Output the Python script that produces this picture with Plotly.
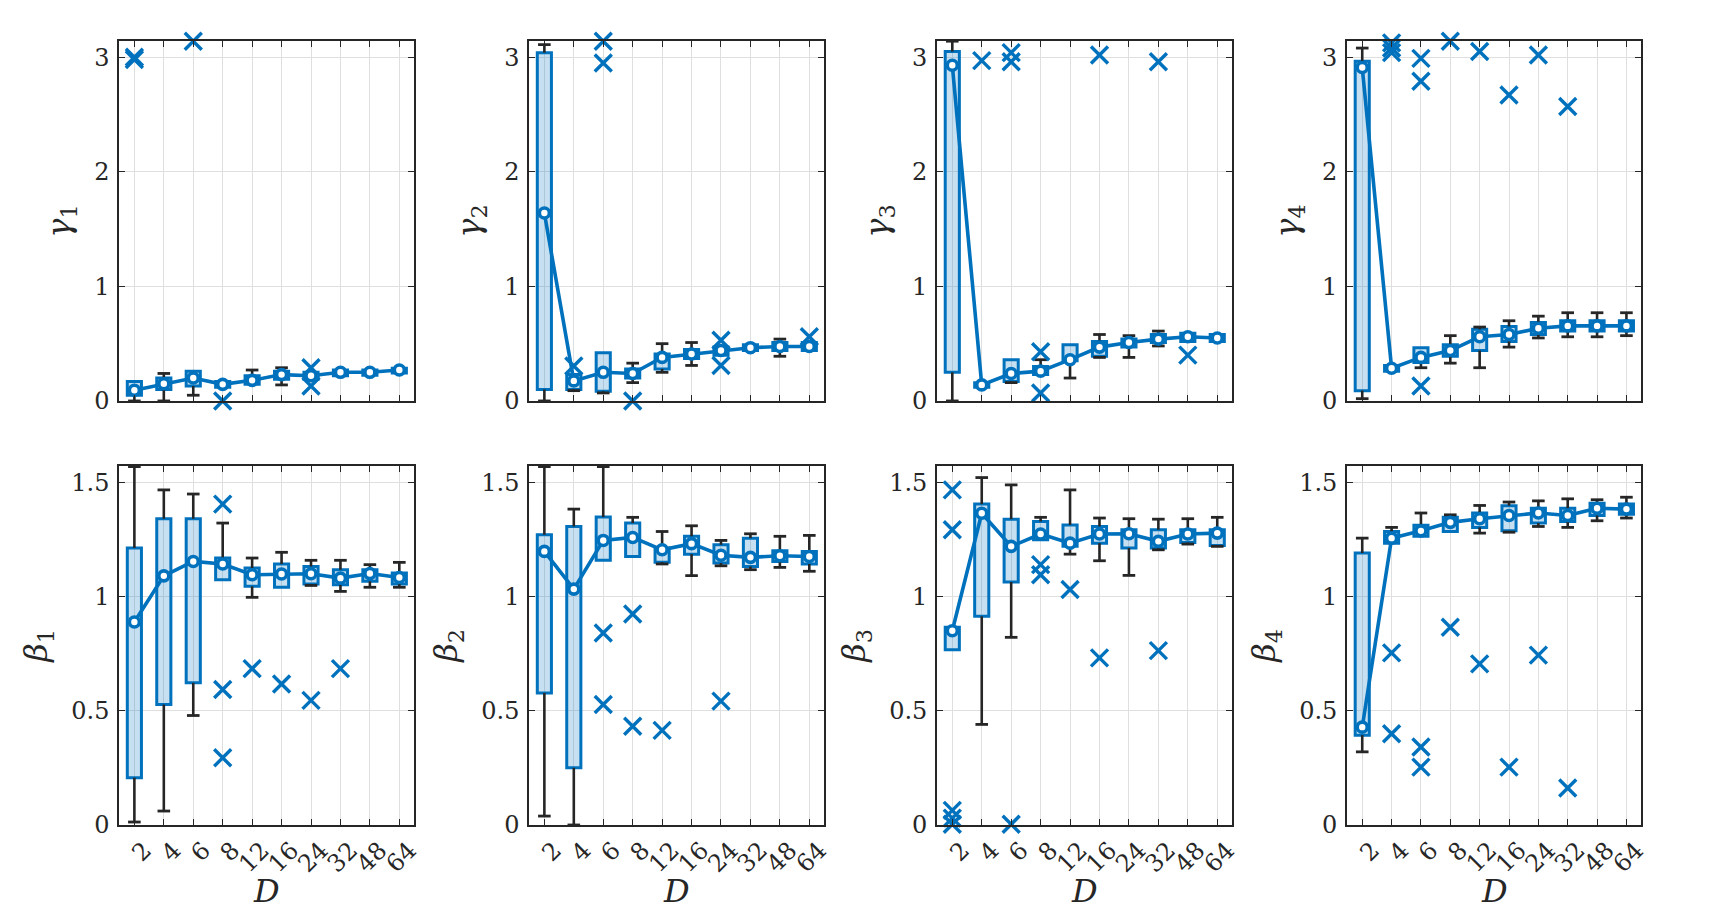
import plotly.graph_objects as go

D_labels = ["2", "4", "6", "8", "12", "16", "24", "32", "48", "64"]

# gamma_1 .. gamma_4 : quartiles, median, whisker ends (one list per panel)
gamma_q1 = [
    [0.05, 0.10, 0.13, 0.12, 0.145, 0.19, 0.19, 0.22, 0.225, 0.245],
    [0.10, 0.10, 0.085, 0.20, 0.28, 0.37, 0.40, 0.44, 0.44, 0.44],
    [0.25, 0.12, 0.17, 0.23, 0.35, 0.39, 0.47, 0.51, 0.52, 0.52],
    [0.09, 0.26, 0.335, 0.39, 0.44, 0.52, 0.58, 0.61, 0.61, 0.61],
]
gamma_med = [
    [0.093, 0.15, 0.20, 0.145, 0.18, 0.23, 0.22, 0.25, 0.25, 0.27],
    [1.64, 0.175, 0.25, 0.24, 0.38, 0.41, 0.44, 0.465, 0.475, 0.475],
    [2.93, 0.14, 0.24, 0.26, 0.36, 0.47, 0.51, 0.54, 0.56, 0.55],
    [2.91, 0.285, 0.38, 0.44, 0.56, 0.58, 0.635, 0.655, 0.655, 0.655],
]
gamma_q3 = [
    [0.17, 0.20, 0.26, 0.17, 0.22, 0.26, 0.25, 0.27, 0.27, 0.285],
    [3.04, 0.23, 0.42, 0.28, 0.41, 0.45, 0.47, 0.49, 0.51, 0.51],
    [3.05, 0.16, 0.36, 0.30, 0.49, 0.52, 0.54, 0.58, 0.59, 0.58],
    [2.965, 0.31, 0.465, 0.49, 0.625, 0.65, 0.685, 0.70, 0.70, 0.70],
]
gamma_lo = [
    [0.0, 0.0, 0.05, 0.12, 0.145, 0.14, 0.19, 0.22, 0.225, 0.245],
    [0.0, 0.09, 0.07, 0.16, 0.25, 0.31, 0.40, 0.44, 0.39, 0.44],
    [0.0, 0.12, 0.16, 0.23, 0.20, 0.38, 0.38, 0.48, 0.52, 0.52],
    [0.02, 0.26, 0.29, 0.33, 0.29, 0.47, 0.55, 0.56, 0.56, 0.57],
]
gamma_hi = [
    [0.17, 0.24, 0.26, 0.17, 0.27, 0.29, 0.25, 0.27, 0.27, 0.285],
    [3.11, 0.23, 0.42, 0.33, 0.50, 0.51, 0.47, 0.49, 0.54, 0.51],
    [3.14, 0.16, 0.36, 0.36, 0.49, 0.58, 0.57, 0.61, 0.59, 0.58],
    [3.08, 0.31, 0.465, 0.57, 0.645, 0.70, 0.74, 0.77, 0.77, 0.77],
]
gamma_out_D = [
    ["2", "2", "6", "8", "24", "24"],
    ["4", "6", "6", "8", "24", "24", "64"],
    ["4", "6", "6", "8", "8", "16", "32", "48"],
    ["4", "4", "4", "6", "6", "6", "8", "12", "16", "24", "32"],
]
gamma_out_val = [
    [3.0, 2.98, 3.14, 0.0, 0.29, 0.13],
    [0.305, 3.14, 2.95, 0.0, 0.53, 0.31, 0.56],
    [2.97, 3.04, 2.96, 0.43, 0.07, 3.02, 2.96, 0.40],
    [3.125, 3.08, 3.04, 2.99, 2.79, 0.13, 3.14, 3.05, 2.67, 3.02, 2.57],
]

# beta_1 .. beta_4
beta_q1 = [
    [0.207, 0.527, 0.622, 1.073, 1.044, 1.04, 1.054, 1.051, 1.066, 1.054],
    [0.578, 0.25, 1.158, 1.175, 1.15, 1.185, 1.146, 1.131, 1.153, 1.142],
    [0.767, 0.913, 1.063, 1.248, 1.219, 1.233, 1.212, 1.212, 1.236, 1.223],
    [0.393, 1.233, 1.263, 1.284, 1.302, 1.287, 1.321, 1.328, 1.354, 1.36],
]
beta_med = [
    [0.888, 1.09, 1.153, 1.142, 1.095, 1.098, 1.099, 1.08, 1.10, 1.083],
    [1.197, 1.032, 1.245, 1.258, 1.204, 1.231, 1.18, 1.171, 1.178, 1.175],
    [0.85, 1.364, 1.219, 1.273, 1.233, 1.273, 1.274, 1.241, 1.273, 1.277],
    [0.428, 1.255, 1.287, 1.324, 1.34, 1.354, 1.365, 1.354, 1.386, 1.382],
]
beta_q3 = [
    [1.212, 1.34, 1.34, 1.168, 1.124, 1.142, 1.131, 1.117, 1.117, 1.102],
    [1.27, 1.306, 1.347, 1.321, 1.212, 1.263, 1.226, 1.255, 1.2, 1.197],
    [0.865, 1.404, 1.338, 1.328, 1.313, 1.306, 1.292, 1.292, 1.292, 1.292],
    [1.19, 1.284, 1.311, 1.346, 1.365, 1.397, 1.386, 1.386, 1.408, 1.404],
]
beta_lo = [
    [0.013, 0.061, 0.479, 1.073, 0.996, 1.04, 1.048, 1.022, 1.04, 1.04],
    [0.039, 0.0, 1.158, 1.175, 1.142, 1.091, 1.134, 1.117, 1.127, 1.11],
    [0.767, 0.44, 0.821, 1.248, 1.185, 1.156, 1.092, 1.204, 1.229, 1.219],
    [0.32, 1.233, 1.263, 1.284, 1.277, 1.281, 1.306, 1.302, 1.331, 1.343],
]
beta_hi = [
    [1.568, 1.466, 1.448, 1.321, 1.168, 1.193, 1.158, 1.158, 1.139, 1.149],
    [1.568, 1.382, 1.568, 1.346, 1.284, 1.309, 1.245, 1.274, 1.263, 1.267],
    [0.865, 1.52, 1.488, 1.346, 1.466, 1.343, 1.34, 1.338, 1.34, 1.346],
    [1.255, 1.302, 1.365, 1.357, 1.398, 1.413, 1.418, 1.427, 1.423, 1.434],
]
beta_out_D = [
    ["8", "8", "8", "12", "16", "24", "32"],
    ["6", "6", "8", "8", "12", "24"],
    ["2", "2", "2", "2", "2", "6", "8", "8", "12", "16", "32"],
    ["4", "4", "6", "6", "8", "12", "16", "24", "32"],
]
beta_out_val = [
    [1.404, 0.593, 0.294, 0.684, 0.617, 0.545, 0.684],
    [0.84, 0.527, 0.923, 0.432, 0.414, 0.542],
    [1.466, 1.292, 0.064, 0.03, 0.003, 0.003, 1.139, 1.095, 1.03, 0.731, 0.763],
    [0.753, 0.399, 0.341, 0.253, 0.865, 0.705, 0.253, 0.743, 0.162],
]

BLUE = "#0072BD"
FILL = "rgba(0,114,189,0.22)"
DARK = "#262626"
FONT = "DejaVu Serif"

col_dom = [(0.0648, 0.2369), (0.3040, 0.4761), (0.5420, 0.7141), (0.7812, 0.9528)]
row_dom = [(0.5738, 0.9642), (0.1139, 0.5033)]

fig = go.Figure()


def add_panel(n, row, col, q1, med, q3, lo, hi, out_D, out_val, name):
    xa = "x" if n == 1 else f"x{n}"
    ya = "y" if n == 1 else f"y{n}"

    # boxes
    fig.add_trace(go.Bar(
        x=D_labels, y=[b - a for a, b in zip(q1, q3)], base=q1, width=0.48,
        marker=dict(color=FILL, line=dict(color=BLUE, width=3)),
        xaxis=xa, yaxis=ya, showlegend=False, hoverinfo="skip"))

    # whiskers (black) with caps
    wx, wy, cx, cy = [], [], [], []
    for d, a, l, b, h in zip(D_labels, q1, lo, q3, hi):
        if l < a:
            wx += [d, d, None]
            wy += [l, a, None]
            cx.append(d)
            cy.append(l)
        if h > b:
            wx += [d, d, None]
            wy += [b, h, None]
            cx.append(d)
            cy.append(h)
    fig.add_trace(go.Scatter(
        x=wx, y=wy, mode="lines", line=dict(color=DARK, width=2.6),
        xaxis=xa, yaxis=ya, showlegend=False, hoverinfo="skip", cliponaxis=False))
    fig.add_trace(go.Scatter(
        x=cx, y=cy, mode="markers",
        marker=dict(symbol="line-ew", size=9, line=dict(color=DARK, width=2.8)),
        xaxis=xa, yaxis=ya, showlegend=False, hoverinfo="skip", cliponaxis=False))

    # median line
    fig.add_trace(go.Scatter(
        x=D_labels, y=med, mode="lines+markers",
        line=dict(color=BLUE, width=3.6),
        marker=dict(symbol="circle", size=10, color="white", line=dict(color=BLUE, width=3.6)),
        xaxis=xa, yaxis=ya, showlegend=False, cliponaxis=False))

    # outliers
    fig.add_trace(go.Scatter(
        x=out_D, y=out_val, mode="markers",
        marker=dict(symbol="x-thin", size=17, line=dict(color=BLUE, width=3.4)),
        xaxis=xa, yaxis=ya, showlegend=False, cliponaxis=False))

    is_gamma = row == 0
    fig.layout[f"xaxis{'' if n == 1 else n}"] = dict(
        domain=col_dom[col], anchor=ya, type="category",
        categoryorder="array", categoryarray=D_labels, range=[-0.52, 9.5],
        tickmode="array", tickvals=D_labels, ticktext=D_labels,
        showticklabels=not is_gamma, tickangle=-45, ticklabelshift=10,
        tickfont=dict(family=FONT, size=24, color=DARK),
        ticks="inside", ticklen=6, tickwidth=1.2, tickcolor=DARK,
        showline=True, linecolor=DARK, linewidth=1.6, mirror="ticks",
        showgrid=True, gridcolor="#dfdfdf", gridwidth=1, zeroline=False,
    )
    fig.layout[f"yaxis{'' if n == 1 else n}"] = dict(
        domain=row_dom[row], anchor=xa,
        range=[0, 3.1416] if is_gamma else [0, 1.5708],
        tickvals=[0, 1, 2, 3] if is_gamma else [0, 0.5, 1, 1.5],
        ticktext=["0", "1", "2", "3"] if is_gamma else ["0", "0.5", "1", "1.5"],
        tickfont=dict(family=FONT, size=24, color=DARK), ticklabelstandoff=3,
        ticks="inside", ticklen=6, tickwidth=1.2, tickcolor=DARK,
        showline=True, linecolor=DARK, linewidth=1.6, mirror="ticks",
        showgrid=True, gridcolor="#dfdfdf", gridwidth=1, zeroline=False,
        title=dict(text=name, font=dict(family=FONT, size=32, color=DARK), standoff=14),
    )
    if not is_gamma:
        fig.add_annotation(
            text="<i>D</i>", xref=f"{xa} domain", yref="paper", x=0.5, y=0.042,
            xanchor="center", yanchor="middle", showarrow=False,
            font=dict(family=FONT, size=32, color=DARK))


for i in range(4):
    add_panel(i + 1, 0, i, gamma_q1[i], gamma_med[i], gamma_q3[i], gamma_lo[i],
              gamma_hi[i], gamma_out_D[i], gamma_out_val[i], f"<i>γ</i><sub>{i + 1}</sub>")
    add_panel(i + 5, 1, i, beta_q1[i], beta_med[i], beta_q3[i], beta_lo[i],
              beta_hi[i], beta_out_D[i], beta_out_val[i], f"<i>β</i><sub>{i + 1}</sub>")

fig.update_layout(
    width=1714, height=922,
    margin=dict(l=0, r=0, t=0, b=0, autoexpand=False),
    paper_bgcolor="white", plot_bgcolor="white",
    barmode="overlay", showlegend=False,
    font=dict(family=FONT, color=DARK),
)

fig.write_html("out.html")
